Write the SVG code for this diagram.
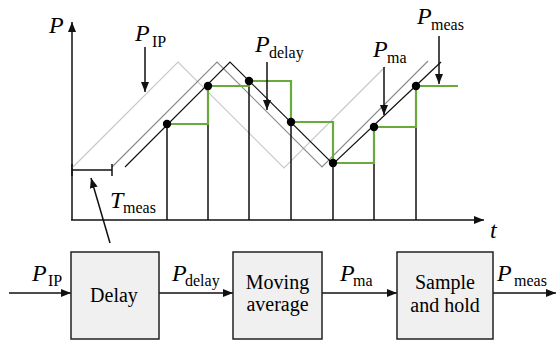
<svg xmlns="http://www.w3.org/2000/svg" width="556" height="346" viewBox="0 0 556 346">
<defs>
<marker id="ah" markerUnits="userSpaceOnUse" markerWidth="10" markerHeight="8" refX="10" refY="4" orient="auto">
<path d="M0,0 L10,4 L0,8 z" fill="#111"/>
</marker>
</defs>

<g id="plot">
<g stroke="#111" stroke-width="1.5" fill="none" marker-end="url(#ah)">
<line x1="72" y1="220" x2="72" y2="22"/>
<line x1="71" y1="220" x2="484" y2="220"/>
</g>
<text font-family="Times New Roman" font-size="24" font-style="italic" x="49" y="33">P</text>
<text font-family="Times New Roman" font-size="24" font-style="italic" x="490" y="238">t</text>

<polyline fill="none" stroke="#c8c8c8" stroke-width="1.2" points="72,168 178,62 284,168 385,67"/>
<polyline fill="none" stroke="#8a8a8a" stroke-width="1.2" points="112,167 217,62 322,167 428,61"/>
<polyline fill="none" stroke="#111" stroke-width="1.2" points="125,167 230,62 333,164 441,62"/>

<g id="samples" stroke="#111" stroke-width="1.5">
<line x1="167" y1="124" x2="167" y2="220"/>
<line x1="208" y1="86" x2="208" y2="220"/>
<line x1="249" y1="81" x2="249" y2="220"/>
<line x1="291" y1="122" x2="291" y2="220"/>
<line x1="333" y1="163" x2="333" y2="220"/>
<line x1="374" y1="127" x2="374" y2="220"/>
<line x1="416" y1="86" x2="416" y2="220"/>
</g>

<polyline fill="none" stroke="#6aaa3c" stroke-width="2.2" points="167,124 208,124 208,86 249,86 249,81 291,81 291,122 333,122 333,163 374,163 374,127 416,127 416,86 458,86"/>

<g id="dots" fill="#000">
<circle cx="167" cy="124" r="4.2"/>
<circle cx="208" cy="86" r="4.2"/>
<circle cx="249" cy="81" r="4.2"/>
<circle cx="291" cy="122" r="4.2"/>
<circle cx="333" cy="163" r="4.2"/>
<circle cx="374" cy="127" r="4.2"/>
<circle cx="416" cy="86" r="4.2"/>
</g>

<g id="tmeas">
<g stroke="#111" stroke-width="1.5" fill="none">
<line x1="72" y1="170" x2="112" y2="170"/>
<line x1="72" y1="164" x2="72" y2="176"/>
<line x1="112" y1="164" x2="112" y2="176"/>
<line x1="110" y1="243" x2="91" y2="178" marker-end="url(#ah)"/>
</g>
<text font-family="Times New Roman" font-size="24" font-style="italic" x="110" y="208">T</text>
<text font-family="Times New Roman" font-size="16" x="123" y="213">meas</text>
</g>

<g id="label-pip">
<text font-family="Times New Roman" font-size="24" font-style="italic" x="135" y="41">P</text>
<text font-family="Times New Roman" font-size="16" x="152" y="47">IP</text>
<line stroke="#111" stroke-width="1.5" marker-end="url(#ah)" x1="145" y1="47" x2="145" y2="92"/>
</g>
<g id="label-pdelay">
<text font-family="Times New Roman" font-size="24" font-style="italic" x="255" y="52">P</text>
<text font-family="Times New Roman" font-size="16" x="269" y="58">delay</text>
<line stroke="#111" stroke-width="1.5" marker-end="url(#ah)" x1="267" y1="62" x2="267" y2="110"/>
</g>
<g id="label-pma">
<text font-family="Times New Roman" font-size="24" font-style="italic" x="373" y="57">P</text>
<text font-family="Times New Roman" font-size="16" x="387" y="63">ma</text>
<line stroke="#111" stroke-width="1.5" marker-end="url(#ah)" x1="384" y1="67" x2="384" y2="115"/>
</g>
<g id="label-pmeas">
<text font-family="Times New Roman" font-size="24" font-style="italic" x="417" y="24">P</text>
<text font-family="Times New Roman" font-size="16" x="431" y="30">meas</text>
<line stroke="#111" stroke-width="1.5" marker-end="url(#ah)" x1="439" y1="36" x2="439" y2="84"/>
</g>
</g>

<g id="connectors">
<g stroke="#111" stroke-width="1.5" fill="none" marker-end="url(#ah)">
<line x1="9" y1="293" x2="71" y2="293"/>
<line x1="159" y1="293" x2="233" y2="293"/>
<line x1="322" y1="293" x2="397" y2="293"/>
<line x1="493" y1="293" x2="556" y2="293"/>
</g>
<text font-family="Times New Roman" font-size="24" font-style="italic" x="32" y="281">P</text>
<text font-family="Times New Roman" font-size="16" x="48" y="286">IP</text>
<text font-family="Times New Roman" font-size="24" font-style="italic" x="172" y="281">P</text>
<text font-family="Times New Roman" font-size="16" x="185" y="286">delay</text>
<text font-family="Times New Roman" font-size="24" font-style="italic" x="340" y="281">P</text>
<text font-family="Times New Roman" font-size="16" x="353" y="286">ma</text>
<text font-family="Times New Roman" font-size="24" font-style="italic" x="497" y="281">P</text>
<text font-family="Times New Roman" font-size="16" x="514" y="286">meas</text>
</g>

<g id="delay">
<rect fill="#f0f0f0" stroke="#222" stroke-width="1.5" x="71" y="252" width="88" height="87"/>
<text font-family="Times New Roman" font-size="20" text-anchor="middle" x="114" y="302">Delay</text>
</g>
<g id="moving-average">
<rect fill="#f0f0f0" stroke="#222" stroke-width="1.5" x="233" y="252" width="89" height="87"/>
<text font-family="Times New Roman" font-size="20" text-anchor="middle" x="277.5" y="289">Moving</text>
<text font-family="Times New Roman" font-size="20" text-anchor="middle" x="277.5" y="311">average</text>
</g>
<g id="sample-hold">
<rect fill="#f0f0f0" stroke="#222" stroke-width="1.5" x="397" y="252" width="96" height="87"/>
<text font-family="Times New Roman" font-size="20" text-anchor="middle" x="445" y="289">Sample</text>
<text font-family="Times New Roman" font-size="20" text-anchor="middle" x="445" y="312">and hold</text>
</g>
</svg>
